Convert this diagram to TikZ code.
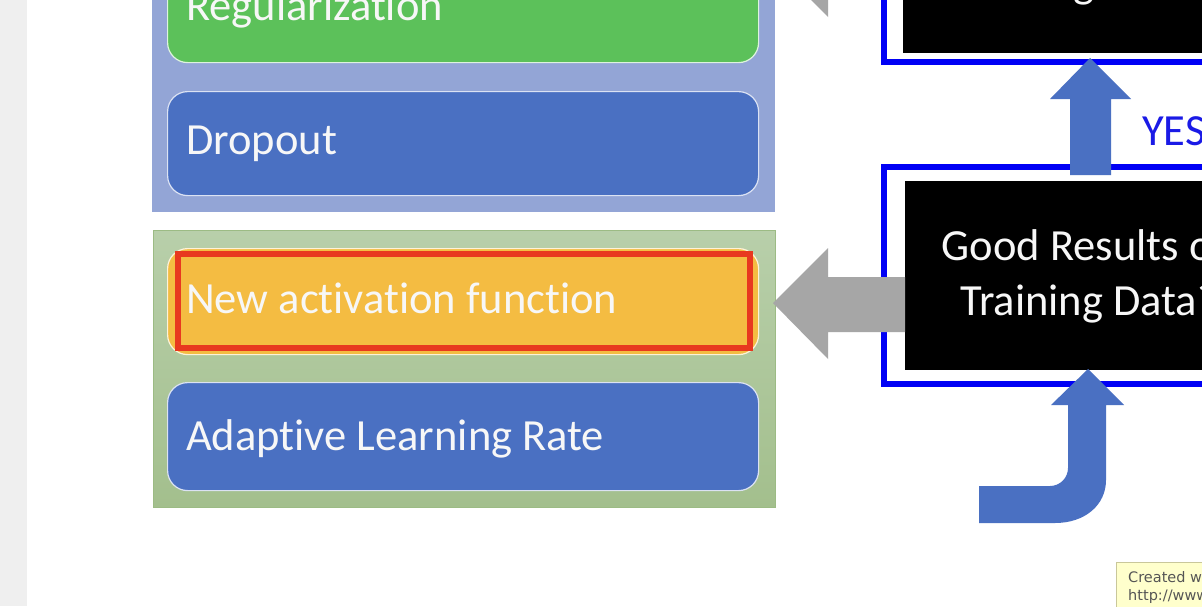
\documentclass[tikz,border=0pt]{standalone}
\usepackage{fontspec}
\setmainfont{Carlito}[Ligatures=NoCommon]
\newfontfamily\tipfont{DejaVu Sans}
\usetikzlibrary{calc}

\definecolor{stripgray}{HTML}{EFEFEF}
\definecolor{contblue}{HTML}{93A5D6}
\definecolor{boxgreen}{HTML}{5CC15A}
\definecolor{boxblue}{HTML}{4A70C2}
\definecolor{contgreenA}{HTML}{B8CFAA}
\definecolor{contgreenB}{HTML}{A3BF8D}
\definecolor{contgreenedge}{HTML}{9CBB84}
\definecolor{boxorange}{HTML}{F4BC42}
\definecolor{hlred}{HTML}{E8381F}
\definecolor{arrowgray}{HTML}{A6A6A6}
\definecolor{frameblue}{HTML}{0000F5}
\definecolor{yesblue}{HTML}{1A1AE6}
\definecolor{tipfill}{HTML}{FFFFCC}
\definecolor{tipedge}{HTML}{C9C79A}
\definecolor{tiptext}{HTML}{555555}
\definecolor{txtwhite}{HTML}{F7F7F7}

\tikzset{
  pill/.style={draw=white!80!#1, line width=1.2pt, fill=#1, rounded corners=20pt,
    minimum width=591pt, anchor=north west, inner sep=0pt},
  lbl/.style={text=txtwhite, font=\fontsize{44.5}{53}\selectfont, anchor=base west, inner sep=0pt},
  darkbox/.style={fill=black, draw=none, anchor=north west, inner sep=0pt},
  bframe/.style={draw=frameblue, line width=6.5pt},
  blockarrow/.style={fill=boxblue, draw=none},
  question/.style={text=txtwhite, font=\fontsize{44.5}{55}\selectfont, align=center, anchor=base},
}

\begin{document}
\begin{tikzpicture}[x=1pt,y=-1pt]
\useasboundingbox (0,0) rectangle (1202,606);
\clip (0,0) rectangle (1202,606);
\fill[white] (0,0) rectangle (1202,606);
\fill[stripgray] (0,0) rectangle (27,606);

% ---- upper container: regularization techniques ----
\node[fill=contblue, minimum width=623pt, minimum height=442pt, anchor=south west,
      inner sep=0pt] (upper) at (152,212) {};
\node[pill=boxgreen, minimum height=107pt] (reg) at (167,-45) {};
\node[lbl] (regtxt) at (186,20) {Regularization};
\node[pill=boxblue, minimum height=104pt] (drop) at (167,91) {};
\node[lbl] (droptxt) at (186,154) {Dropout};

% ---- lower container: training techniques ----
\node[top color=contgreenA, bottom color=contgreenB, draw=contgreenedge, line width=1pt,
      minimum width=622pt, minimum height=277pt, anchor=north west, inner sep=0pt]
      (lower) at (152.5,230) {};
\node[pill=boxorange, minimum height=106pt] (act) at (167,248) {};
\node[draw=hlred, line width=6pt, minimum width=572pt, minimum height=94pt,
      anchor=north west, inner sep=0pt, outer sep=0pt] (hl) at (178,254) {};
\node[lbl] (acttxt) at (186,313) {New activation function};
\node[pill=boxblue, minimum height=108pt] (adapt) at (167,382) {};
\node[lbl] (adapttxt) at (186,450) {Adaptive Learning Rate};

% ---- decision boxes ----
\draw[bframe] (884,-300) rectangle (1260,62);
\node[darkbox, minimum width=360pt, minimum height=300pt, anchor=south west] (testbox) at (903,53) {};
\node[question] (testtxt) at (1089,-3) {Good Results on\\Testing Data?};

\draw[bframe] (884,167) rectangle (1260,384);
\node[darkbox, minimum width=360pt, minimum height=189pt] (trainbox) at (905,181) {};
\node[question] (traintxt) at (1089,315) {Good Results on\\Training Data?};

% ---- gray arrows pointing to the technique groups ----
\fill[arrowgray] (906,-66) -- (828,-66) -- (828,-93) -- (773,-38) -- (828,17)
      -- (828,-10) -- (906,-10) -- cycle;
\fill[arrowgray] (trainbox.west |- 0,277) -- (828,277) -- (828,248) -- (773,303)
      -- (828,359) -- (828,332) -- (trainbox.west |- 0,332) -- cycle;

% ---- blue arrow: YES ----
\fill[blockarrow] (1070,175) -- (1070,99) -- (1050,99) -- (1090,58) -- (1131,99)
      -- (1111,99) -- (1111,175) -- cycle;
\node[text=yesblue, font=\fontsize{44.5}{53}\selectfont, anchor=base west, inner sep=0pt]
     (yes) at (1142,145) {YES};

% ---- bent blue arrow into the training check ----
\fill[blockarrow] (979,486) -- (1050,486) arc[start angle=90, end angle=0, radius=18]
      -- (1068,405) -- (1051,405) -- (1088,369) -- (1124,405) -- (1106,405)
      -- (1106,480) .. controls (1106,505) and (1085,523) .. (1055,523)
      -- (979,523) -- cycle;

% ---- tooltip ----
\node[fill=tipfill, draw=tipedge, line width=1pt, minimum width=120pt, minimum height=60pt,
      anchor=north west, inner sep=0pt] (tip) at (1116,562) {};
\node[text=tiptext, font=\tipfont\fontsize{14.5}{18}\selectfont, align=left, anchor=base west,
      inner sep=0pt] (tiptxt) at (1128,600) {Created with\\http://www};
\end{tikzpicture}
\end{document}
